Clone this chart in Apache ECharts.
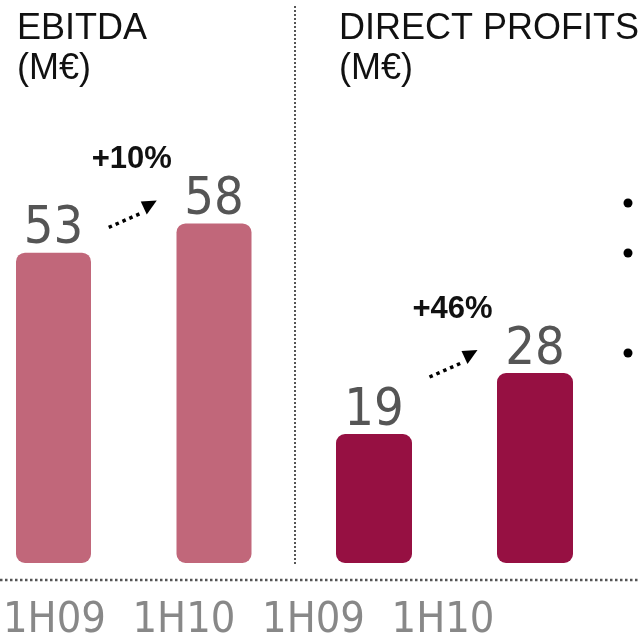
<!DOCTYPE html>
<html><head><meta charset="utf-8">
<script src="https://cdn.jsdelivr.net/npm/echarts@6/dist/echarts.min.js"></script>
<style>html,body{margin:0;padding:0;background:#fff}#c{width:638px;height:643px}</style>
</head><body><div id="c"></div>
<script>
const categories = ['1H09', '1H10'];
const ebitda = [53, 58];
const directProfits = [19, 28];
const growthLabels = ['+10%', '+46%'];
const axisLabels = ['1H09', '1H10', '1H09', '1H10'];
const titles = ['EBITDA\n(M€)', 'DIRECT PROFITS\n(M€)'];

const FONT = '"Liberation Sans Narrow","DejaVu Sans Condensed","Liberation Sans",sans-serif';
const chart = echarts.init(document.getElementById('c'), null, {renderer: 'canvas'});

const valueLabel = {
  show: true, position: 'top', distance: -3,
  fontFamily: FONT, fontSize: 52, color: '#555', fontWeight: 'normal'
};

const option = {
  animation: false,
  title: [
    {text: titles[0], left: 12, top: 4, textStyle: {fontFamily: '"Liberation Sans",sans-serif', fontSize: 36, lineHeight: 40, fontWeight: 'normal', color: '#111'}},
    {text: titles[1], left: 334, top: 4, textStyle: {fontFamily: '"Liberation Sans",sans-serif', fontSize: 36, lineHeight: 40, fontWeight: 'normal', color: '#111'}}
  ],
  grid: [
    {left: 53.5, top: 200, width: 160.5, height: 363},
    {left: 374, top: 200, width: 161, height: 363},
    {left: 47, top: 580, width: 396, height: 1}
  ],
  xAxis: [
    {gridIndex: 0, type: 'category', data: categories, boundaryGap: false, show: false},
    {gridIndex: 1, type: 'category', data: categories, boundaryGap: false, show: false},
    {gridIndex: 2, type: 'category', data: axisLabels, boundaryGap: false,
     axisLine: {show: false}, axisTick: {show: false}, splitLine: {show: false},
     axisLabel: {show: true, interval: 0, margin: 18, verticalAlign: 'top', fontFamily: FONT, fontSize: 43, color: '#888'}}
  ],
  yAxis: [
    {gridIndex: 0, type: 'value', min: 0, max: 62, show: false, splitLine: {show: false}},
    {gridIndex: 1, type: 'value', min: 0, max: 53.5, show: false, splitLine: {show: false}},
    {gridIndex: 2, type: 'value', show: false, splitLine: {show: false}}
  ],
  series: [
    {type: 'bar', xAxisIndex: 0, yAxisIndex: 0, data: ebitda, barWidth: 75, clip: false,
     itemStyle: {color: '#c1677a', borderRadius: 9}, label: valueLabel},
    {type: 'bar', xAxisIndex: 1, yAxisIndex: 1, data: directProfits, barWidth: 76, clip: false,
     itemStyle: {color: '#961042', borderRadius: 9}, label: valueLabel}
  ]
};
chart.setOption(option);

function arrowGroup(seriesIndex, values, text) {
  const p0 = chart.convertToPixel({seriesIndex: seriesIndex}, [0, values[0]]);
  const p1 = chart.convertToPixel({seriesIndex: seriesIndex}, [1, values[1]]);
  const cx = (p0[0] + p1[0]) / 2;
  const cy = p1[1] - 10;
  return [
    {type: 'line', shape: {x1: cx - 25, y1: cy + 14, x2: cx + 9, y2: cy - 1},
     style: {stroke: '#000', lineWidth: 3.5, lineDash: [3.5, 4]}},
    {type: 'polygon', shape: {points: [[cx + 7, cy - 12], [cx + 23, cy - 13], [cx + 13, cy + 1]]},
     style: {fill: '#000'}},
    {type: 'text', x: cx - 2, y: p1[1] - 64,
     style: {text: text, fontFamily: '"Liberation Sans",sans-serif', fontWeight: 'bold', fontSize: 31, fill: '#111', align: 'center', verticalAlign: 'middle'}}
  ];
}

const graphics = []
  .concat(arrowGroup(0, ebitda, growthLabels[0]))
  .concat(arrowGroup(1, directProfits, growthLabels[1]));

graphics.push({type: 'line', shape: {x1: 295, y1: 6, x2: 295, y2: 566},
  style: {stroke: '#555', lineWidth: 2, lineDash: [2, 2]}});
graphics.push({type: 'line', shape: {x1: 0, y1: 580, x2: 638, y2: 580},
  style: {stroke: '#555', lineWidth: 2.5, lineDash: [2.5, 2.5]}});
[203, 253, 353].forEach(function (y) {
  graphics.push({type: 'circle', shape: {cx: 628, cy: y, r: 4.5}, style: {fill: '#000'}});
});

chart.setOption({graphic: graphics});
</script></body></html>
